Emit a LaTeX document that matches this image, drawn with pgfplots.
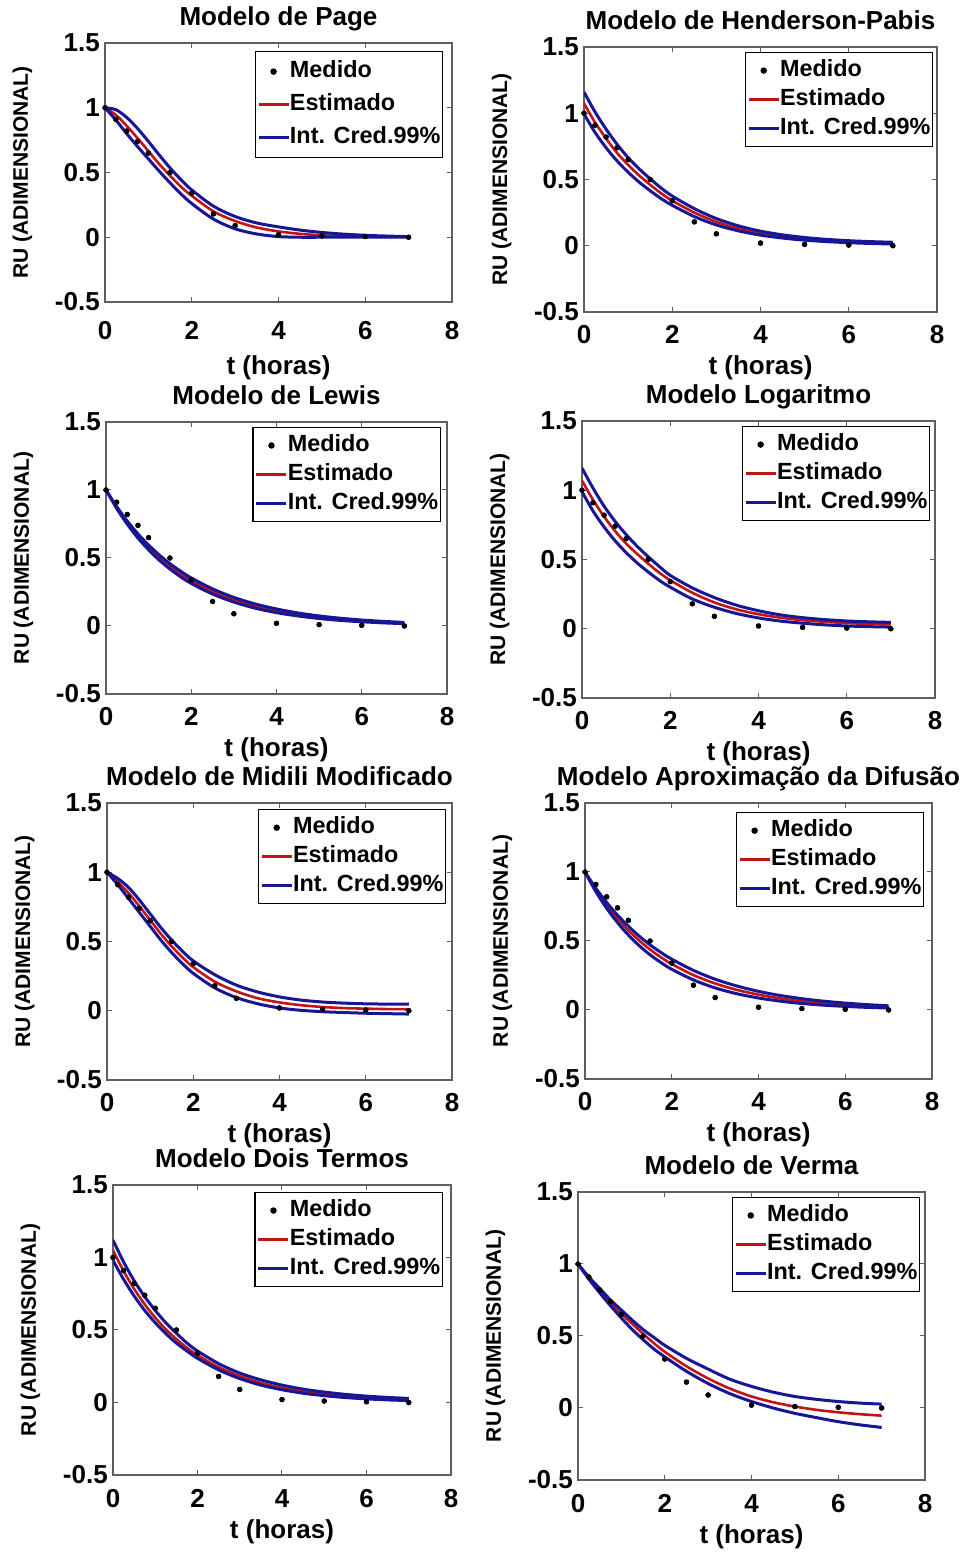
\documentclass[border=0pt]{standalone}
\usepackage{fontspec}
\setmainfont{Liberation Sans}
\usepackage{pgfplots}
\usepackage{pgfplotstable}
\pgfplotsset{compat=1.18}

\definecolor{estred}{RGB}{195,20,20}
\definecolor{icblue}{RGB}{22,22,150}
\definecolor{axgray}{RGB}{95,95,95}

% measured points (same in every panel)
\pgfplotstableread{
t ru
0 1.00
0.25 0.91
0.5 0.82
0.75 0.74
1 0.65
1.5 0.50
2 0.34
2.5 0.18
3 0.09
4 0.02
5 0.01
6 0.005
7 0.00
}\medido

% t, upper limit, estimate, lower limit
\pgfplotstableread{
t up est lo
0 1.000 1.000 1.000
0.25 0.985 0.945 0.905
0.5 0.925 0.860 0.800
0.75 0.840 0.765 0.700
1 0.740 0.665 0.605
1.25 0.635 0.565 0.510
1.5 0.535 0.475 0.420
1.75 0.445 0.390 0.335
2 0.365 0.320 0.260
2.5 0.240 0.200 0.140
3 0.160 0.125 0.065
3.5 0.110 0.075 0.025
4 0.080 0.045 0.005
4.5 0.055 0.026 0.000
5 0.037 0.015 0.000
5.5 0.024 0.008 0.000
6 0.015 0.005 0.000
6.5 0.009 0.003 0.000
7 0.005 0.002 0.000
}\tpage

\pgfplotstableread{
t up est lo
0 1.160 1.075 0.995
0.25 1.010 0.930 0.855
0.5 0.880 0.810 0.740
0.75 0.765 0.700 0.640
1 0.665 0.610 0.555
1.25 0.580 0.530 0.480
1.5 0.505 0.460 0.415
1.75 0.435 0.395 0.355
2 0.375 0.340 0.305
2.5 0.280 0.250 0.220
3 0.205 0.180 0.157
3.5 0.150 0.130 0.112
4 0.110 0.095 0.080
4.5 0.082 0.070 0.058
5 0.062 0.052 0.042
5.5 0.048 0.040 0.031
6 0.038 0.030 0.023
6.5 0.031 0.023 0.017
7 0.026 0.018 0.013
}\thp

\pgfplotstableread{
t up est lo
0 1.000 1.000 1.000
0.25 0.878 0.872 0.865
0.5 0.771 0.760 0.748
0.75 0.677 0.662 0.647
1 0.595 0.577 0.560
1.25 0.522 0.503 0.484
1.5 0.458 0.438 0.419
1.75 0.403 0.382 0.362
2 0.353 0.333 0.313
2.5 0.273 0.253 0.235
3 0.210 0.192 0.176
3.5 0.162 0.146 0.131
4 0.125 0.111 0.098
4.5 0.096 0.084 0.074
5 0.074 0.064 0.055
5.5 0.057 0.049 0.041
6 0.044 0.037 0.031
6.5 0.034 0.028 0.023
7 0.026 0.021 0.017
}\tlewis

\pgfplotstableread{
t up est lo
0 1.160 1.070 0.990
0.25 1.015 0.930 0.850
0.5 0.885 0.810 0.735
0.75 0.775 0.705 0.635
1 0.680 0.615 0.550
1.25 0.595 0.540 0.475
1.5 0.520 0.470 0.410
1.75 0.450 0.405 0.350
2 0.385 0.350 0.300
2.5 0.295 0.260 0.215
3 0.225 0.190 0.155
3.5 0.170 0.140 0.110
4 0.130 0.105 0.078
4.5 0.100 0.080 0.055
5 0.080 0.062 0.040
5.5 0.066 0.050 0.028
6 0.056 0.041 0.020
6.5 0.050 0.035 0.015
7 0.046 0.031 0.012
}\tlog

\pgfplotstableread{
t up est lo
0 1.000 1.000 1.000
0.25 0.955 0.930 0.910
0.5 0.890 0.850 0.810
0.75 0.800 0.755 0.710
1 0.700 0.655 0.610
1.25 0.600 0.555 0.510
1.5 0.510 0.465 0.420
1.75 0.430 0.385 0.340
2 0.360 0.315 0.270
2.5 0.260 0.210 0.165
3 0.185 0.140 0.095
3.5 0.135 0.090 0.050
4 0.100 0.060 0.020
4.5 0.077 0.040 0.003
5 0.063 0.027 -0.007
5.5 0.055 0.019 -0.013
6 0.050 0.015 -0.018
6.5 0.048 0.012 -0.021
7 0.047 0.011 -0.024
}\tmidili

\pgfplotstableread{
t up est lo
0 1.000 1.000 1.000
0.25 0.882 0.872 0.858
0.5 0.779 0.760 0.737
0.75 0.687 0.662 0.633
1 0.607 0.577 0.543
1.25 0.535 0.503 0.466
1.5 0.472 0.438 0.400
1.75 0.417 0.382 0.344
2 0.368 0.333 0.295
2.5 0.287 0.253 0.218
3 0.223 0.192 0.160
3.5 0.174 0.146 0.118
4 0.135 0.111 0.087
4.5 0.105 0.084 0.064
5 0.082 0.064 0.047
5.5 0.064 0.049 0.035
6 0.050 0.037 0.026
6.5 0.039 0.028 0.019
7 0.030 0.021 0.014
}\tdifusao

\pgfplotstableread{
t up est lo
0 1.120 1.050 0.980
0.25 0.970 0.907 0.850
0.5 0.840 0.784 0.735
0.75 0.730 0.677 0.635
1 0.635 0.585 0.550
1.25 0.550 0.505 0.475
1.5 0.478 0.437 0.410
1.75 0.410 0.377 0.355
2 0.355 0.326 0.305
2.5 0.268 0.243 0.225
3 0.203 0.182 0.165
3.5 0.156 0.135 0.120
4 0.120 0.101 0.088
4.5 0.092 0.076 0.064
5 0.072 0.056 0.047
5.5 0.056 0.042 0.034
6 0.044 0.031 0.025
6.5 0.035 0.023 0.018
7 0.028 0.018 0.013
}\tdois

\pgfplotstableread{
t up est lo
0 1.000 1.000 1.000
0.25 0.910 0.905 0.895
0.5 0.830 0.815 0.800
0.75 0.750 0.730 0.710
1 0.680 0.655 0.625
1.25 0.610 0.585 0.545
1.5 0.545 0.515 0.475
1.75 0.490 0.450 0.410
2 0.435 0.390 0.355
2.5 0.345 0.290 0.255
3 0.270 0.205 0.170
3.5 0.200 0.135 0.100
4 0.150 0.080 0.045
4.5 0.110 0.040 0.000
5 0.080 0.010 -0.037
5.5 0.060 -0.013 -0.067
6 0.045 -0.030 -0.095
6.5 0.034 -0.043 -0.117
7 0.027 -0.053 -0.135
}\tverma

\pgfplotsset{
  rupanel/.style={
    scale only axis, anchor=south west,
    xmin=0, xmax=8, ymin=-0.5, ymax=1.5,
    xtick={0,2,4,6,8}, xticklabels={0,2,4,6,8},
    ytick={-0.5,0,0.5,1,1.5}, yticklabels={-0.5,0,0.5,1,1.5},
    tick align=inside, major tick length=5pt,
    axis line style={draw=axgray, line width=1.2pt},
    every tick/.style={draw=axgray, line width=1pt},
    tick label style={font=\fontsize{26}{28}\selectfont\bfseries, text=black, inner sep=0pt},
    xticklabel style={anchor=base, yshift=-32pt},
    yticklabel style={anchor=east, xshift=-5pt},
    title style={font=\fontsize{26}{28}\selectfont\bfseries, at={(axis description cs:0.5,1)}, anchor=base, yshift=11pt, inner sep=0pt},
    xlabel={t (horas)},
    ylabel={RU (ADIMENSIONAL)},
    xlabel style={font=\fontsize{26}{28}\selectfont\bfseries, at={(axis description cs:0.5,0)}, anchor=base, yshift=-63pt, inner sep=0pt},
    ylabel style={font=\fontsize{21}{23}\selectfont\bfseries, anchor=base, inner sep=0pt},
    legend cell align=left,
    legend image code/.code={\draw[#1] (0pt,0pt) -- (30pt,0pt);},
    legend style={draw=black, line width=1.2pt, fill=white, anchor=north east,
      font=\fontsize{23.4}{25}\selectfont\bfseries,
      inner xsep=2pt, inner ysep=5pt, row sep=3pt,
      nodes={inner xsep=0pt, inner ysep=2pt, text height=17pt, text depth=5pt}},
  },
}

\newcommand{\curves}[1]{%
  \addplot[only marks, mark=*, mark size=2.4pt, black,
    legend image code/.code={\fill[black] (15pt,0pt) circle (2.6pt);}]
    table[x=t, y=ru] {\medido};
  \addlegendentry{Medido}
  \addplot[estred, line width=2.6pt, smooth,
    legend image code/.code={\draw[estred, line width=2.8pt] (0pt,0pt) -- (30pt,0pt);}]
    table[x=t, y=est] {#1};
  \addlegendentry{Estimado}
  \addplot[icblue, line width=3pt, smooth,
    legend image code/.code={\draw[icblue, line width=2.8pt] (0pt,0pt) -- (30pt,0pt);}]
    table[x=t, y=up] {#1};
  \addlegendentry{Int. Cred.99\%}
  \addplot[icblue, line width=3pt, smooth, forget plot] table[x=t, y=lo] {#1};
  \addplot[only marks, mark=*, mark size=2.4pt, black, forget plot] table[x=t, y=ru] {\medido};
}

\begin{document}
\begin{tikzpicture}
\useasboundingbox (0pt,0pt) rectangle (967pt,1552pt);

\begin{axis}[rupanel, at={(105pt,1250pt)}, width=347pt, height=259pt,
  title={Modelo de Page},
  ylabel style={at={(axis description cs:-0.222,0.5)}},
  xlabel style={yshift=-10pt}, xticklabel style={yshift=-6pt},
  legend style={at={(0.974,0.969)}, row sep=7pt, inner ysep=7pt}]
\curves{\tpage}
\end{axis}

\begin{axis}[rupanel, at={(584pt,1240pt)}, width=353pt, height=265pt,
  title={Modelo de Henderson-Pabis},
  ylabel style={at={(axis description cs:-0.218,0.5)}},
  legend style={at={(0.989,0.981)}}]
\curves{\thp}
\end{axis}

\begin{axis}[rupanel, at={(106pt,858pt)}, width=341pt, height=272pt,
  title={Modelo de Lewis},
  ylabel style={at={(axis description cs:-0.226,0.5)}},
  legend style={at={(0.982,0.982)}}]
\curves{\tlewis}
\end{axis}

\begin{axis}[rupanel, at={(582pt,854pt)}, width=353pt, height=277pt,
  title={Modelo Logaritmo},
  ylabel style={at={(axis description cs:-0.218,0.5)}},
  legend style={at={(0.986,0.982)}}]
\curves{\tlog}
\end{axis}

\begin{axis}[rupanel, at={(107pt,472pt)}, width=345pt, height=277pt,
  title={Modelo de Midili Modificado},
  ylabel style={at={(axis description cs:-0.223,0.5)}},
  legend style={at={(0.983,0.978)}}]
\curves{\tmidili}
\end{axis}

\begin{axis}[rupanel, at={(585pt,473pt)}, width=347pt, height=276pt,
  title={Modelo Aproximação da Difusão},
  ylabel style={at={(axis description cs:-0.222,0.5)}},
  legend style={at={(0.977,0.967)}}]
\curves{\tdifusao}
\end{axis}

\begin{axis}[rupanel, at={(113pt,77pt)}, width=338pt, height=290pt,
  title={Modelo Dois Termos},
  ylabel style={at={(axis description cs:-0.228,0.5)}},
  legend style={at={(0.976,0.976)}}]
\curves{\tdois}
\end{axis}

\begin{axis}[rupanel, at={(578pt,72pt)}, width=347pt, height=288pt,
  title={Modelo de Verma},
  ylabel style={at={(axis description cs:-0.222,0.5)}},
  legend style={at={(0.986,0.983)}}]
\curves{\tverma}
\end{axis}
\end{tikzpicture}
\end{document}
